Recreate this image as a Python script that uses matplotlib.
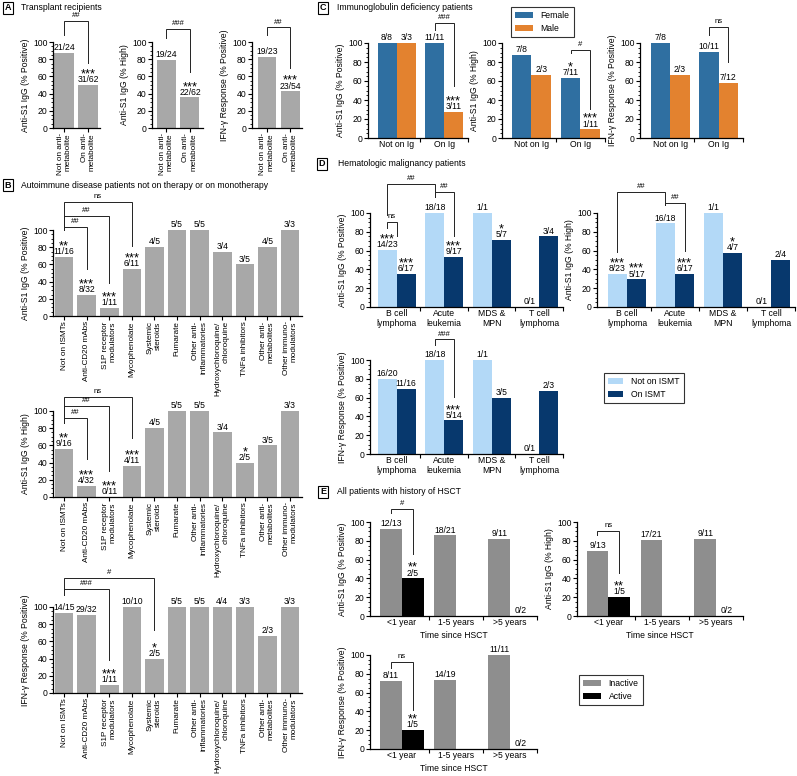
import matplotlib
matplotlib.use('Agg')
import matplotlib.pyplot as plt
import numpy as np
from matplotlib.patches import Patch

plt.rcParams['font.family'] = ['Liberation Sans', 'DejaVu Sans']
plt.rcParams['font.size'] = 6

# ---------------- DATA ----------------
# Panel A: transplant recipients
a_cats = ['Not on anti-\nmetabolite', 'On anti-\nmetabolite']
a_pos_vals = [87.5, 50.0]
a_pos_labels = ['21/24', '***\n31/62']
a_high_vals = [79.2, 35.5]
a_high_labels = ['19/24', '***\n22/62']
a_ifn_vals = [82.6, 42.6]
a_ifn_labels = ['19/23', '***\n23/54']

# Panel B: autoimmune disease
b_cats = ['Not on ISMTs', 'Anti-CD20 mAbs', 'S1P receptor\nmodulators', 'Mycophenolate',
          'Systemic\nsteroids', 'Fumarate', 'Other anti-\ninflammatories',
          'Hydroxychloroquine/\nchloroquine', 'TNFa inhibitors', 'Other anti-\nmetabolites',
          'Other immuno-\nmodulators']
b_pos_vals = [68.8, 25.0, 9.1, 54.5, 80.0, 100.0, 100.0, 75.0, 60.0, 80.0, 100.0]
b_pos_labels = ['**\n11/16', '***\n8/32', '***\n1/11', '***\n6/11', '4/5', '5/5', '5/5',
                '3/4', '3/5', '4/5', '3/3']
b_high_vals = [56.3, 12.5, 0.0, 36.4, 80.0, 100.0, 100.0, 75.0, 40.0, 60.0, 100.0]
b_high_labels = ['**\n9/16', '***\n4/32', '***\n0/11', '***\n4/11', '4/5', '5/5', '5/5',
                 '3/4', '*\n2/5', '3/5', '3/3']
b_ifn_vals = [93.3, 90.6, 9.1, 100.0, 40.0, 100.0, 100.0, 100.0, 100.0, 66.7, 100.0]
b_ifn_labels = ['14/15', '29/32', '***\n1/11', '10/10', '*\n2/5', '5/5', '5/5', '4/4',
                '3/3', '2/3', '3/3']

# Panel C: immunoglobulin deficiency
c_groups = ['Not on Ig', 'On Ig']
c_series = ['Female', 'Male']
c_pos_female = [100.0, 100.0]
c_pos_male = [100.0, 27.3]
c_pos_female_labels = ['8/8', '11/11']
c_pos_male_labels = ['3/3', '***\n3/11']
c_high_female = [87.5, 63.6]
c_high_male = [66.7, 9.1]
c_high_female_labels = ['7/8', '*\n7/11']
c_high_male_labels = ['2/3', '***\n1/11']
c_ifn_female = [100.0, 90.9]
c_ifn_male = [66.7, 58.3]
c_ifn_female_labels = ['7/8', '10/11']
c_ifn_male_labels = ['2/3', '7/12']

# Panel D: hematologic malignancy
d_groups = ['B cell\nlymphoma', 'Acute\nleukemia', 'MDS &\nMPN', 'T cell\nlymphoma']
d_series = ['Not on ISMT', 'On ISMT']
d_pos_not = [60.9, 100.0, 100.0, 0.0]
d_pos_on = [35.3, 52.9, 71.4, 75.0]
d_pos_not_labels = ['***\n14/23', '18/18', '1/1', '0/1']
d_pos_on_labels = ['***\n6/17', '***\n9/17', '*\n5/7', '3/4']
d_high_not = [34.8, 88.9, 100.0, 0.0]
d_high_on = [29.4, 35.3, 57.1, 50.0]
d_high_not_labels = ['***\n8/23', '16/18', '1/1', '0/1']
d_high_on_labels = ['***\n5/17', '***\n6/17', '*\n4/7', '2/4']
d_ifn_not = [80.0, 100.0, 100.0, 0.0]
d_ifn_on = [68.8, 35.7, 60.0, 66.7]
d_ifn_not_labels = ['16/20', '18/18', '1/1', '0/1']
d_ifn_on_labels = ['11/16', '***\n5/14', '3/5', '2/3']

# Panel E: HSCT
e_groups = ['<1 year', '1-5 years', '>5 years']
e_series = ['Inactive', 'Active']
e_pos_inactive = [92.3, 85.7, 81.8]
e_pos_active = [40.0, np.nan, 0.0]
e_pos_inactive_labels = ['12/13', '18/21', '9/11']
e_pos_active_labels = ['**\n2/5', '', '0/2']
e_high_inactive = [69.2, 81.0, 81.8]
e_high_active = [20.0, np.nan, 0.0]
e_high_inactive_labels = ['9/13', '17/21', '9/11']
e_high_active_labels = ['**\n1/5', '', '0/2']
e_ifn_inactive = [72.7, 73.7, 100.0]
e_ifn_active = [20.0, np.nan, 0.0]
e_ifn_inactive_labels = ['8/11', '14/19', '11/11']
e_ifn_active_labels = ['**\n1/5', '', '0/2']

# ---------------- STYLE ----------------
GRAY = '#a8a8a8'
EGRAY = '#8e8e8e'
FEMALE = '#2f6fa1'
MALE = '#e3822f'
LIGHT = '#b3d9f7'
NAVY = '#07386d'
FS = 6.2
FS_ROT = 5.9

W, H = 797, 776
fig = plt.figure(figsize=(W / 100, H / 100), dpi=100)


def add_ax(x0, x1, ytop, ybot, xlim):
    ax = fig.add_axes([x0 / W, 1 - ybot / H, (x1 - x0) / W, (ybot - ytop) / H])
    ax.set_xlim(*xlim)
    ax.set_ylim(0, 100)
    for s in ['top', 'right']:
        ax.spines[s].set_visible(False)
    for s in ['left', 'bottom']:
        ax.spines[s].set_linewidth(0.9)
    ax.set_yticks(range(0, 101, 20))
    ax.set_yticks(range(0, 101, 5), minor=True)
    ax.tick_params(axis='y', which='major', length=2.6, width=0.8, labelsize=FS, pad=1.2)
    ax.tick_params(axis='y', which='minor', length=1.4, width=0.6)
    ax.tick_params(axis='x', which='major', length=2.6, width=0.8, labelsize=FS, pad=1.2)
    ax.patch.set_visible(False)
    return ax


def bar_labels(ax, xs, vals, labels):
    for x, v, l in zip(xs, vals, labels):
        if not l:
            continue
        parts = l.split('\n')
        frac = parts[-1]
        ax.annotate(frac, (x, v), xytext=(0, 0.6), textcoords='offset points',
                    ha='center', va='bottom', fontsize=FS, annotation_clip=False)
        if len(parts) > 1:
            ax.annotate(parts[0], (x, v), xytext=(0, 5.4), textcoords='offset points',
                        ha='center', va='baseline', fontsize=9.3,
                        annotation_clip=False)


def bracket(ax, x1, x2, y, yl, yr, text):
    ax.plot([x1, x1, x2, x2], [yl, y, y, yr], color='#222222', lw=0.7,
            clip_on=False, solid_joinstyle='miter')
    ax.annotate(text, ((x1 + x2) / 2, y), xytext=(0, 1.2), textcoords='offset points',
                ha='center', va='bottom', fontsize=5.6, annotation_clip=False)


def single_panel(ax, cats, vals, labels, color, width, ylabel):
    xs = np.arange(len(cats))
    ax.bar(xs, vals, width=width, color=color)
    bar_labels(ax, xs, vals, labels)
    ax.set_xticks(xs)
    ax.set_xticklabels(cats, rotation=90, multialignment='right', fontsize=FS_ROT)
    ax.set_ylabel(ylabel, fontsize=FS, labelpad=2)


def grouped_panel(ax, groups, v1, v2, l1, l2, c1, c2, ylabel, off=0.2, width=0.4,
                  xlabel=None):
    xs = np.arange(len(groups))
    ax.bar(xs - off, v1, width=width, color=c1)
    ax.bar(xs + off, v2, width=width, color=c2)
    bar_labels(ax, xs - off, v1, l1)
    bar_labels(ax, xs + off, v2, l2)
    ax.set_xticks(np.arange(len(groups)) + 0.5)
    ax.set_xticklabels([])
    ax.set_xticks(xs, minor=True)
    ax.set_xticklabels(groups, minor=True, fontsize=FS)
    ax.tick_params(axis='x', which='minor', length=0, pad=1.5)
    ax.set_ylabel(ylabel, fontsize=FS, labelpad=2)
    if xlabel:
        ax.set_xlabel(xlabel, fontsize=FS, labelpad=3)


def panel_label(x, y, s):
    fig.text(x / W, 1 - y / H, s, ha='center', va='center', fontsize=6.5,
             fontweight='bold',
             bbox=dict(boxstyle='square,pad=0.2', fc='white', ec='black', lw=0.8))


def title(x, y, s):
    fig.text(x / W, 1 - y / H, s, ha='left', va='center', fontsize=FS)


def legend_box(x0, y0, labels, colors, handlelength=2.1):
    handles = [Patch(facecolor=c, edgecolor='none') for c in colors]
    leg = fig.legend(handles, labels, loc='upper left', bbox_to_anchor=(x0 / W, 1 - y0 / H),
                     frameon=True, fancybox=False, fontsize=FS, handlelength=handlelength,
                     handleheight=0.7, borderpad=0.45, labelspacing=0.45,
                     handletextpad=0.9, borderaxespad=0)
    leg.get_frame().set_edgecolor('black')
    leg.get_frame().set_linewidth(0.8)


YPOS = 'Anti-S1 IgG (% Positive)'
YHIGH = 'Anti-S1 IgG (% High)'
YIFN = 'IFN-γ Response (% Positive)'

# ---------------- PANEL A ----------------
panel_label(8, 8, 'A')
title(21, 7, 'Transplant recipients')
axA1 = add_ax(53, 100, 42, 128, (-0.46, 1.5))
single_panel(axA1, a_cats, a_pos_vals, a_pos_labels, GRAY, 0.8, YPOS)
bracket(axA1, 0, 1, 124.4, 108, 75.6, '##')
axA2 = add_ax(152, 203, 42, 128, (-0.6, 1.55))
single_panel(axA2, a_cats, a_high_vals, a_high_labels, GRAY, 0.8, YHIGH)
bracket(axA2, 0, 1, 115, 104.6, 65, '###')
axA3 = add_ax(252, 302, 42, 128, (-0.64, 1.5))
single_panel(axA3, a_cats, a_ifn_vals, a_ifn_labels, GRAY, 0.8, YIFN)
bracket(axA3, 0, 1, 117, 108, 70, '##')

# ---------------- PANEL B ----------------
panel_label(8, 185, 'B')
title(21, 186, 'Autoimmune disease patients not on therapy or on monotherapy')
axB1 = add_ax(53, 302, 230, 316, (-0.49, 10.53))
single_panel(axB1, b_cats, b_pos_vals, b_pos_labels, GRAY, 0.82, YPOS)
bracket(axB1, 0, 1, 103.5, 100, 55, '##')
bracket(axB1, 0, 2, 116.3, 100, 38, '##')
bracket(axB1, 0, 3, 132.6, 100, 81, 'ns')
axB2 = add_ax(53, 302, 411, 497, (-0.49, 10.53))
single_panel(axB2, b_cats, b_high_vals, b_high_labels, GRAY, 0.82, YHIGH)
bracket(axB2, 0, 1, 91.9, 86, 44, '##')
bracket(axB2, 0, 2, 105.8, 86, 30, '##')
bracket(axB2, 0, 3, 116.3, 86, 68.6, 'ns')
axB3 = add_ax(53, 302, 607, 693, (-0.49, 10.53))
single_panel(axB3, b_cats, b_ifn_vals, b_ifn_labels, GRAY, 0.82, YIFN)
bracket(axB3, 0, 2, 121, 114, 38, '###')
bracket(axB3, 0, 4, 133.7, 114, 73, '#')

# ---------------- PANEL C ----------------
panel_label(323, 8, 'C')
title(337, 7, 'Immunoglobulin deficiency patients')
axC1 = add_ax(368, 468, 43, 138, (-0.6, 1.5))
grouped_panel(axC1, c_groups, c_pos_female, c_pos_male, c_pos_female_labels,
              c_pos_male_labels, FEMALE, MALE, YPOS)
bracket(axC1, 0.8, 1.2, 121, 113.7, 55, '###')
axC2 = add_ax(502, 605, 43, 138, (-0.6, 1.5))
grouped_panel(axC2, c_groups, c_high_female, c_high_male, c_high_female_labels,
              c_high_male_labels, FEMALE, MALE, YHIGH)
bracket(axC2, 0.8, 1.2, 92.6, 89.5, 31, '#')
axC3 = add_ax(640, 743, 43, 138, (-0.62, 1.5))
grouped_panel(axC3, c_groups, c_ifn_female, c_ifn_male, c_ifn_female_labels,
              c_ifn_male_labels, FEMALE, MALE, YIFN)
bracket(axC3, 0.8, 1.2, 116.8, 108, 80, 'ns')
legend_box(511, 7, c_series, [FEMALE, MALE])

# ---------------- PANEL D ----------------
panel_label(322, 164, 'D')
title(338, 164, 'Hematologic malignancy patients')
axD1 = add_ax(370, 563, 213, 307, (-0.56, 3.5))
grouped_panel(axD1, d_groups, d_pos_not, d_pos_on, d_pos_not_labels, d_pos_on_labels,
              LIGHT, NAVY, YPOS)
bracket(axD1, -0.2, 0.0, 90.4, 84, 76, 'ns')
bracket(axD1, -0.2, 0.8, 130.9, 98, 117, '##')
bracket(axD1, 0.8, 1.2, 122.3, 117, 76, '##')
axD2 = add_ax(597, 795, 213, 307, (-0.625, 3.5))
grouped_panel(axD2, d_groups, d_high_not, d_high_on, d_high_not_labels, d_high_on_labels,
              LIGHT, NAVY, YHIGH)
bracket(axD2, -0.2, 0.8, 122.3, 59, 108.5, '##')
bracket(axD2, 0.8, 1.2, 110.6, 108.5, 60, '##')
axD3 = add_ax(370, 563, 360, 454, (-0.56, 3.5))
grouped_panel(axD3, d_groups, d_ifn_not, d_ifn_on, d_ifn_not_labels, d_ifn_on_labels,
              LIGHT, NAVY, YIFN)
bracket(axD3, 0.8, 1.2, 122, 116, 61, '###')
legend_box(604, 373, d_series, [LIGHT, NAVY], handlelength=1.8)

# ---------------- PANEL E ----------------
panel_label(323, 492, 'E')
title(337, 492, 'All patients with history of HSCT')
axE1 = add_ax(370, 537, 522, 616, (-0.59, 2.5))
grouped_panel(axE1, e_groups, e_pos_inactive, e_pos_active, e_pos_inactive_labels,
              e_pos_active_labels, EGRAY, 'black', YPOS, xlabel='Time since HSCT')
bracket(axE1, -0.2, 0.2, 113.8, 109.6, 66, '#')
axE2 = add_ax(577, 743, 522, 616, (-0.58, 2.5))
grouped_panel(axE2, e_groups, e_high_inactive, e_high_active, e_high_inactive_labels,
              e_high_active_labels, EGRAY, 'black', YHIGH, xlabel='Time since HSCT')
bracket(axE2, -0.2, 0.2, 90.4, 86, 46, 'ns')
axE3 = add_ax(370, 537, 655, 749, (-0.59, 2.5))
grouped_panel(axE3, e_groups, e_ifn_inactive, e_ifn_active, e_ifn_inactive_labels,
              e_ifn_active_labels, EGRAY, 'black', YIFN, xlabel='Time since HSCT')
bracket(axE3, -0.2, 0.2, 92.6, 86, 42, 'ns')
legend_box(579, 675, e_series, [EGRAY, 'black'])

fig.savefig('out.png', dpi=100)
